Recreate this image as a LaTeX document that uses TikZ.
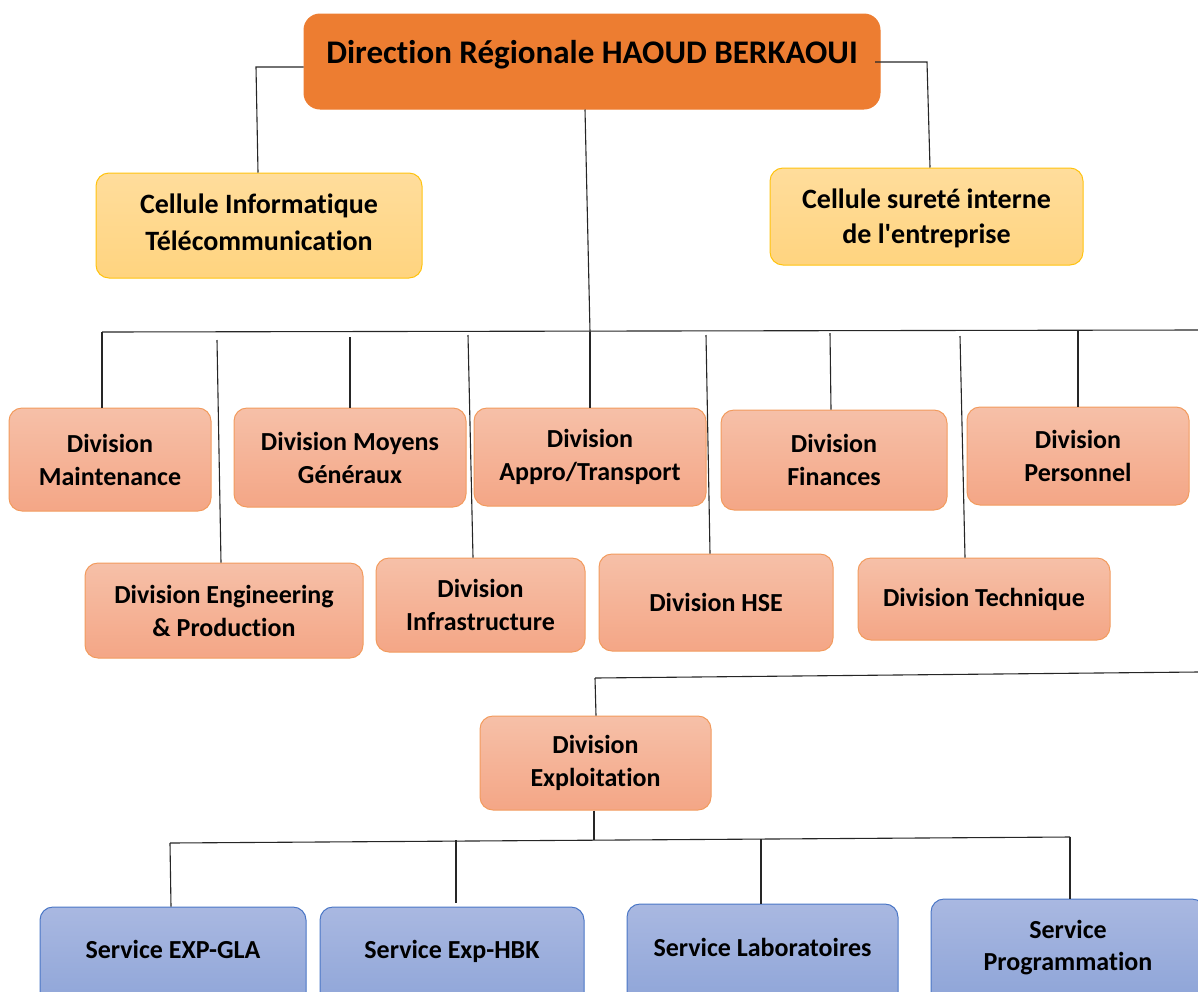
\documentclass[tikz,border=0pt]{standalone}
\usepackage{fontspec}
\setmainfont{Carlito}[Ligatures={NoCommon,TeXOff}]
\newcommand{\lowtext}[2]{\raisebox{#1}[0pt][0pt]{\begin{tabular}[b]{@{}c@{}}#2\end{tabular}}}
\begin{document}
\begin{tikzpicture}[x=1pt,y=-1pt,
  box/.style={rounded corners=13pt, inner sep=0pt, align=center, font=\fontsize{26}{33}\selectfont\bfseries, text=black},
  topbox/.style={box, fill=orange1, draw=orange1, line width=1pt, rounded corners=16pt, font=\fontsize{33}{33}\selectfont\bfseries},
  cell/.style={box, top color=yell1, bottom color=yell2, draw=yellB, line width=1pt, font=\fontsize{28}{36}\selectfont\bfseries},
  div/.style={box, top color=sal1, bottom color=sal2, draw=salB, line width=1pt},
  serv/.style={box, top color=blu1, bottom color=blu2, draw=bluB, line width=1pt, font=\fontsize{26}{32}\selectfont\bfseries},
  conn/.style={draw=black!85, line width=1.1pt}
]
\definecolor{orange1}{HTML}{ED7D31}
\definecolor{yell1}{HTML}{FFDD9C}
\definecolor{yell2}{HTML}{FFD47F}
\definecolor{yellB}{HTML}{FFC30F}
\definecolor{sal1}{HTML}{F6C0A8}
\definecolor{sal2}{HTML}{F4A686}
\definecolor{salB}{HTML}{F29B5E}
\definecolor{blu1}{HTML}{A9B8E1}
\definecolor{blu2}{HTML}{8CA3D7}
\definecolor{bluB}{HTML}{4A76C6}
\useasboundingbox (0,0) rectangle (1198,991);
\clip (0,0) rectangle (1198,991);

% boxes
\node[topbox, minimum width=576pt, minimum height=95pt] (dir) at (592,61.5) {\lowtext{-1.5pt}{Direction Régionale HAOUD BERKAOUI}};
\node[cell, minimum width=326pt, minimum height=105pt] (ci) at (259,225.5) {\lowtext{-24.5pt}{Cellule Informatique\\[1pt]Télécommunication}};
\node[cell, minimum width=313pt, minimum height=97pt] (cs) at (926.5,216.5) {\lowtext{-26.5pt}{Cellule sureté interne\\[-1pt]de l'entreprise}};

\node[div, minimum width=202pt, minimum height=103pt] (mnt) at (110,459.5) {Division\\Maintenance};
\node[div, minimum width=232pt, minimum height=99pt] (moy) at (350,457.5) {Division Moyens\\Généraux};
\node[div, minimum width=232pt, minimum height=98pt] (app) at (590,457) {Division\\Appro/Transport};
\node[div, minimum width=226pt, minimum height=100pt] (fin) at (834,460) {Division\\Finances};
\node[div, minimum width=222pt, minimum height=98pt] (per) at (1078,456) {Division\\Personnel};

\node[div, minimum width=278pt, minimum height=95pt] (eng) at (224,610.5) {Division Engineering\\\& Production};
\node[div, minimum width=209pt, minimum height=94pt] (inf) at (480.5,605) {Division\\Infrastructure};
\node[div, minimum width=234pt, minimum height=97pt] (hse) at (716,602.5) {Division HSE};
\node[div, minimum width=252pt, minimum height=82pt] (tec) at (984,599) {Division Technique};

\node[div, minimum width=231pt, minimum height=94pt] (exp) at (595.5,763) {Division\\Exploitation};

\node[serv, minimum width=266pt, minimum height=110pt] (gla) at (173,962) {\lowtext{4pt}{Service EXP-GLA}};
\node[serv, minimum width=264pt, minimum height=110pt] (hbk) at (452,962) {\lowtext{4pt}{Service Exp-HBK}};
\node[serv, minimum width=271pt, minimum height=110pt] (lab) at (762.5,959) {\lowtext{2.5pt}{Service Laboratoires}};
\node[serv, minimum width=274pt, minimum height=110pt] (prg) at (1068,954) {\lowtext{-16pt}{Service\\Programmation}};

% coordinates
\coordinate (h1) at (102,332);
\coordinate (h1r) at (1198,330);
\coordinate (h2l) at (595,678);
\coordinate (h2r) at (1198,672);
\coordinate (h3l) at (170,843);
\coordinate (h3r) at (1070,837);

% top connectors
\draw[conn] (dir.west |- 0,67) -- (256,67) -- (ci.north -| 258,0);
\draw[conn] (875,62) -- (927,62) -- (cs.north -| 930,0);
\draw[conn] (dir.south -| 585,0) -- (590,332);

% division bus
\draw[conn] (h1) -- (h1r);
\draw[conn] (h1) -- (mnt.north -| 102,0);
\draw[conn] (217,340) -- (eng.north -| 221,0);
\draw[conn] (350,337) -- (moy.north -| 350,0);
\draw[conn] (468,335) -- (inf.north -| 473,0);
\draw[conn] (590,332) -- (app.north -| 590,0);
\draw[conn] (706,335) -- (hse.north -| 710,0);
\draw[conn] (830,333) -- (fin.north -| 831,0);
\draw[conn] (960,336) -- (tec.north -| 965,0);
\draw[conn] (1078,331) -- (per.north -| 1078,0);

% exploitation
\draw[conn] (h2l) -- (h2r);
\draw[conn] (h2l) -- (exp.north -| 596,0);
\draw[conn] (exp.south -| 594,0) -- (594,840);
\draw[conn] (h3l) -- (h3r);
\draw[conn] (h3l) -- (gla.north -| 171,0);
\draw[conn] (456,840) -- (456,903);
\draw[conn] (761,839) -- (lab.north -| 761,0);
\draw[conn] (h3r) -- (prg.north -| 1070,0);
\end{tikzpicture}
\end{document}
